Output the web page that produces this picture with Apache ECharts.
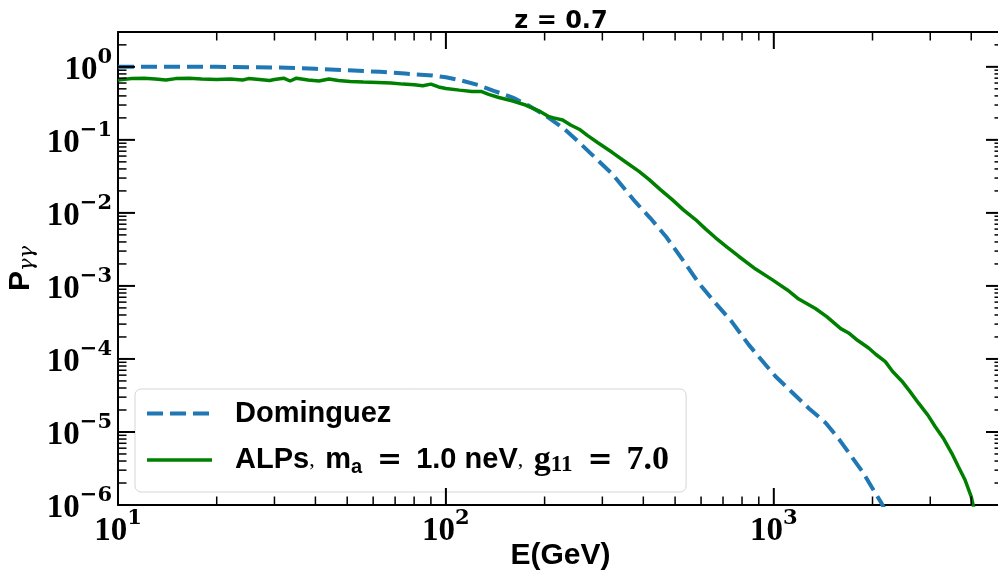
<!DOCTYPE html>
<html>
<head>
<meta charset="utf-8">
<script src="https://cdn.jsdelivr.net/npm/echarts@6/dist/echarts.min.js"></script>
<style>html,body{margin:0;padding:0;background:#fff}#c{width:998px;height:575px}</style>
</head>
<body>
<div id="c"></div>
<script>
// ---- data ----
const X_MIN = 10, X_MAX = 5000;
const Y_MIN = 1e-6, Y_MAX = 3;

const dominguezE = [10, 15, 20, 25, 30, 35, 40, 50, 63, 75, 91, 100, 110, 126, 140, 160, 180, 202, 228, 255, 290, 322, 379, 420, 468, 530, 590, 660, 744, 838, 900, 1011, 1132, 1280, 1438, 1580, 1726, 1870, 1986, 2128, 2200];
const dominguezP = [1.0, 1.0, 1.0, 0.99, 0.98, 0.96, 0.94, 0.90, 0.854, 0.81, 0.76, 0.72, 0.66, 0.56, 0.47, 0.38, 0.29, 0.213, 0.145, 0.092, 0.053, 0.034, 0.0140, 0.0085, 0.0048, 0.0022, 0.0011, 0.0006, 0.000325, 0.000157, 0.000107, 0.000058, 0.0000356, 0.000021, 0.0000134, 0.0000080, 0.0000046, 0.0000028, 0.00000178, 0.00000107, 0.0000008];

const alpE = [10, 11, 12, 13, 14, 15, 16.5, 18, 20, 22, 24, 25, 27, 29, 30, 32, 33.5, 35, 38, 41, 44, 47, 51, 56, 62, 68, 74, 80, 85, 90, 95, 100, 110, 120, 128, 135, 145, 160, 175, 192, 205, 213, 227, 240, 255, 270, 290, 322, 355, 388, 416, 450, 489, 530, 577, 620, 663, 720, 781, 880, 988, 1100, 1191, 1339, 1450, 1600, 1691, 1800, 1946, 2050, 2188, 2300, 2455, 2600, 2760, 2950, 3104, 3300, 3490, 3650, 3831, 4000, 4100];
const alpP = [0.66, 0.69, 0.70, 0.68, 0.66, 0.69, 0.70, 0.68, 0.67, 0.68, 0.66, 0.69, 0.67, 0.65, 0.67, 0.70, 0.64, 0.70, 0.66, 0.64, 0.68, 0.65, 0.63, 0.62, 0.61, 0.60, 0.58, 0.57, 0.55, 0.58, 0.53, 0.505, 0.48, 0.46, 0.46, 0.42, 0.38, 0.34, 0.30, 0.25, 0.21, 0.20, 0.187, 0.16, 0.14, 0.115, 0.092, 0.067, 0.049, 0.037, 0.0288, 0.021, 0.0153, 0.011, 0.0081, 0.006, 0.0046, 0.0034, 0.00255, 0.0017, 0.00122, 0.00088, 0.00066, 0.00049, 0.00038, 0.00026, 0.000227, 0.00018, 0.000141, 0.000115, 0.000092, 0.000068, 0.000050, 0.000036, 0.000025, 0.000017, 0.0000119, 0.0000080, 0.0000051, 0.0000034, 0.0000022, 0.0000013, 0.0000008];

const xMajorTicks = [10, 100, 1000];
const xMinorTicks = [20, 30, 40, 50, 60, 70, 80, 90, 200, 300, 400, 500, 600, 700, 800, 900, 2000, 3000, 4000];
const yMajorTicks = [1e-6, 1e-5, 1e-4, 1e-3, 1e-2, 1e-1, 1];
const yMinorTicks = [];
for (let e = -6; e <= 0; e++) for (let m = 2; m <= 9; m++) { const v = m * Math.pow(10, e); if (v < Y_MAX) yMinorTicks.push(v); }

const titleText = 'z = 0.7';
const xName = 'E(GeV)';
const seriesNames = ['Dominguez', 'ALPs'];

// ---- chart ----
const chart = echarts.init(document.getElementById('c'), null, {renderer: 'canvas'});

function powLabel(v) {
  const l = Math.log10(v);
  const n = Math.round(l);
  if (Math.abs(l - n) > 1e-6) return '';
  return '{b|10}{s|' + (n < 0 ? '\u2212' + (-n) : n) + '}';
}
const labelRich = {
  b: {fontFamily: 'Liberation Serif', fontWeight: 'bold', fontSize: 33, color: '#000', lineHeight: 40, verticalAlign: 'bottom'},
  s: {fontFamily: 'DejaVu Serif', fontWeight: 'bold', fontSize: 21, color: '#000', lineHeight: 23, verticalAlign: 'top'}
};

function tickSeries(values, dim, major) {
  return {
    type: 'custom', silent: true, z: 5, clip: false,
    xAxisIndex: 0, yAxisIndex: 0,
    data: values.map(v => dim === 'x' ? [v, Y_MIN] : [X_MIN, v]),
    renderItem: function (params, api) {
      const cs = params.coordSys;
      const len = major ? 17 : 8.5;
      const w = major ? 2 : 1.5;
      const p = api.coord([api.value(0), api.value(1)]);
      let lines;
      if (dim === 'x') {
        const x = p[0], yb = cs.y + cs.height, yt = cs.y;
        lines = [[x, yb, x, yb - len], [x, yt, x, yt + len]];
      } else {
        const y = p[1], xl = cs.x, xr = cs.x + cs.width;
        lines = [[xl, y, xl + len, y], [xr, y, xr - len, y]];
      }
      return {
        type: 'group',
        children: lines.map(l => ({type: 'line', shape: {x1: l[0], y1: l[1], x2: l[2], y2: l[3]}, style: {stroke: '#000', lineWidth: w}}))
      };
    }
  };
}

const option = {
  animation: false,
  backgroundColor: '#fff',
  title: {
    text: titleText, left: 556, top: 5, textAlign: 'center',
    textStyle: {fontFamily: 'DejaVu Sans', fontWeight: 'bold', fontSize: 24, color: '#000'}
  },
  grid: {left: 118, top: 32, width: 885, height: 473, outerBoundsMode: 'none', containLabel: false},
  legend: {
    orient: 'vertical', left: 135, top: 389,
    data: [
      {name: seriesNames[0], lineStyle: {width: 4, type: [16, 7], color: '#1f77b4'}},
      {name: seriesNames[1], lineStyle: {width: 3.5, color: '#008000'}}
    ],
    itemWidth: 65, itemHeight: 30, itemGap: 15,
    padding: [10, 17, 15, 10],
    backgroundColor: '#fff', borderColor: '#d5d5d5', borderWidth: 1, borderRadius: 6,
    itemStyle: {color: 'rgba(0,0,0,0)', borderWidth: 0, opacity: 0},
    formatter: function (name) {
      if (name === 'ALPs') {
        return '{a|ALPs}{c|, }{a|m}{sub|a}{e|=}{a|1.0 neV}{c|, }{g|g}{gsub|11}{e|=}{g|7.0}';
      }
      return '{a|' + name + '}';
    },
    textStyle: {
      padding: [0, 0, 0, 18], color: '#000',
      rich: {
        a: {fontFamily: 'Liberation Sans', fontWeight: 'bold', fontSize: 29, color: '#000', lineHeight: 34},
        c: {fontFamily: 'Liberation Serif', fontWeight: 'normal', fontSize: 22, color: '#000', lineHeight: 34, padding: [0, 5, 0, 0]},
        sub: {fontFamily: 'Liberation Sans', fontWeight: 'bold', fontSize: 20, color: '#000', lineHeight: 26, verticalAlign: 'bottom'},
        e: {fontFamily: 'DejaVu Serif', fontWeight: 'bold', fontSize: 30, color: '#000', lineHeight: 34, padding: [0, 14, 0, 15]},
        g: {fontFamily: 'Liberation Serif', fontWeight: 'bold', fontSize: 34, color: '#000', lineHeight: 34},
        gsub: {fontFamily: 'Liberation Serif', fontWeight: 'bold', fontSize: 23, color: '#000', lineHeight: 26, verticalAlign: 'bottom'}
      }
    }
  },
  xAxis: [
    {
      type: 'log', logBase: 10, min: X_MIN, max: X_MAX, position: 'bottom',
      name: xName, nameLocation: 'middle', nameGap: 36, nameMoveOverlap: false,
      nameTextStyle: {fontFamily: 'Liberation Sans', fontWeight: 'bold', fontSize: 30, color: '#000', verticalAlign: 'top'},
      axisLine: {show: true, lineStyle: {color: '#000', width: 2}},
      axisTick: {show: false}, minorTick: {show: false},
      splitLine: {show: false},
      axisLabel: {show: true, margin: 3, formatter: powLabel, rich: labelRich, showMinLabel: true, showMaxLabel: true, hideOverlap: false}
    },
    {
      type: 'log', logBase: 10, min: X_MIN, max: X_MAX, position: 'top',
      axisLine: {show: true, onZero: false, lineStyle: {color: '#000', width: 2}},
      axisTick: {show: false}, axisLabel: {show: false}, splitLine: {show: false}
    }
  ],
  yAxis: [
    {
      type: 'log', logBase: 10, min: Y_MIN, max: Y_MAX, position: 'left',
      name: '{p|P}{s|\u03b3\u03b3}', nameLocation: 'middle', nameGap: 80, nameRotate: 90, nameMoveOverlap: false,
      nameTextStyle: {
        color: '#000',
        rich: {
          p: {fontFamily: 'Liberation Sans', fontWeight: 'bold', fontSize: 30, color: '#000', lineHeight: 34},
          s: {fontFamily: 'DejaVu Serif', fontStyle: 'italic', fontSize: 21, color: '#000', lineHeight: 26, verticalAlign: 'bottom'}
        }
      },
      axisLine: {show: true, onZero: false, lineStyle: {color: '#000', width: 2}},
      axisTick: {show: false}, minorTick: {show: false},
      splitLine: {show: false},
      axisLabel: {show: true, margin: 6, formatter: powLabel, rich: labelRich, showMinLabel: true, showMaxLabel: true, hideOverlap: false}
    },
    {
      type: 'log', logBase: 10, min: Y_MIN, max: Y_MAX, position: 'right',
      axisLine: {show: true, onZero: false, lineStyle: {color: '#000', width: 2}},
      axisTick: {show: false}, axisLabel: {show: false}, splitLine: {show: false}
    }
  ],
  series: [
    {
      name: seriesNames[0], type: 'line', symbol: 'none', showSymbol: false,
      xAxisIndex: 0, yAxisIndex: 0, z: 3, clip: true,
      data: dominguezE.map((e, i) => [e, dominguezP[i]]),
      lineStyle: {color: '#1f77b4', width: 4, type: [16, 7]},
      itemStyle: {color: '#1f77b4'}
    },
    {
      name: seriesNames[1], type: 'line', symbol: 'none', showSymbol: false,
      xAxisIndex: 0, yAxisIndex: 0, z: 3, clip: true,
      data: alpE.map((e, i) => [e, alpP[i]]),
      lineStyle: {color: '#008000', width: 3.5},
      itemStyle: {color: '#008000'}
    },
    tickSeries(xMajorTicks, 'x', true),
    tickSeries(xMinorTicks, 'x', false),
    tickSeries(yMajorTicks, 'y', true),
    tickSeries(yMinorTicks, 'y', false)
  ]
};
chart.setOption(option);
</script>
</body>
</html>
